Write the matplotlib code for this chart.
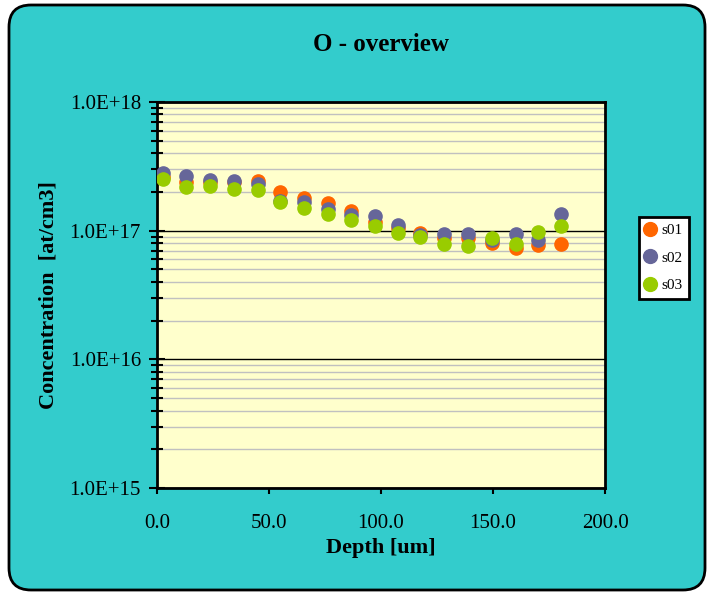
import numpy as np
import matplotlib
matplotlib.use("Agg")
import matplotlib.pyplot as plt
from matplotlib.patches import FancyBboxPatch
from matplotlib.transforms import IdentityTransform
from matplotlib.ticker import FixedLocator, FuncFormatter, LogLocator, NullFormatter

plt.rcParams["font.family"] = ["Liberation Serif", "DejaVu Serif"]

# ----------------------------------------------------
# Data
# ----------------------------------------------------

depth = [2.5, 13.0, 23.7, 34.4, 45.0, 55.0, 65.6, 76.3, 86.6, 97.3,
         107.6, 117.4, 128.0, 138.8, 149.6, 160.3, 170.2, 180.4]

s01 = [2.60e17, 2.40e17, 2.40e17, 2.40e17, 2.43e17, 2.01e17, 1.80e17, 1.63e17, 1.41e17, 1.17e17,
       1.05e17, 9.6e16, 8.7e16, 8.8e16, 8.0e16, 7.3e16, 7.8e16, 7.9e16]
s02 = [2.79e17, 2.66e17, 2.48e17, 2.43e17, 2.29e17, 1.70e17, 1.66e17, 1.48e17, 1.32e17, 1.31e17,
       1.10e17, 9.3e16, 9.4e16, 9.5e16, 8.5e16, 9.5e16, 8.5e16, 1.35e17]
s03 = [2.51e17, 2.17e17, 2.24e17, 2.09e17, 2.08e17, 1.68e17, 1.51e17, 1.35e17, 1.20e17, 1.09e17,
       9.6e16, 8.9e16, 7.9e16, 7.6e16, 8.8e16, 7.9e16, 9.8e16, 1.09e17]

series_names = ["s01", "s02", "s03"]
colors = ["#FF6600", "#666699", "#99CC00"]

x_ticks = [0, 50, 100, 150, 200]
y_ticks = [1e15, 1e16, 1e17, 1e18]

# ----------------------------------------------------
# Figure
# ----------------------------------------------------

fig = plt.figure(figsize=(7.08, 5.93), dpi=100)
fig.patch.set_facecolor("white")

frame = FancyBboxPatch(
    (9, 3), 696, 585,
    boxstyle="round,pad=0,rounding_size=22",
    transform=IdentityTransform(),
    facecolor="#33CCCC",
    edgecolor="black",
    linewidth=2,
    zorder=-10
)
fig.patches.append(frame)

ax = fig.add_axes([157 / 708, 1 - 488 / 593, 448 / 708, 386 / 593])
ax.set_zorder(2)
ax.set_facecolor("#FFFFCC")

for name, vals, c in zip(series_names, [s01, s02, s03], colors):
    ax.plot(depth, vals, linestyle="none", marker="o", markersize=9.5,
            markerfacecolor=c, markeredgecolor=c, label=name, zorder=3)

ax.set_yscale("log")
ax.set_ylim(1e15, 1e18)
ax.set_xlim(0, 200)

ax.yaxis.set_major_locator(FixedLocator(y_ticks))
ax.yaxis.set_major_formatter(FuncFormatter(
    lambda v, p: "1.0E+%d" % int(round(np.log10(v)))))
ax.yaxis.set_minor_locator(LogLocator(base=10, subs=np.arange(2, 10)))
ax.yaxis.set_minor_formatter(NullFormatter())

ax.set_xticks(x_ticks)
ax.set_xticklabels(["%.1f" % t for t in x_ticks])

ax.grid(True, which="major", axis="y", color="black", linewidth=1)
ax.grid(True, which="minor", axis="y", color="#C0C0C0", linewidth=1)
ax.set_axisbelow(True)

ax.tick_params(axis="y", which="major", direction="inout", length=11, width=1.5,
               labelsize=15, pad=6)
ax.tick_params(axis="y", which="minor", direction="inout", length=8, width=1.5)
ax.tick_params(axis="x", which="major", direction="out", length=4.5, width=1.5,
               labelsize=15, pad=14)

for s in ax.spines.values():
    s.set_linewidth(2)

ax.set_title("O - overview", fontsize=18, fontweight="bold", pad=37)
ax.set_xlabel("Depth [um]", fontsize=16, fontweight="bold", labelpad=4)
ax.set_ylabel("Concentration  [at/cm3]", fontsize=16, fontweight="bold", labelpad=8)

leg = fig.legend(
    loc="center left",
    bbox_to_anchor=(639 / 708, 1 - 258 / 593),
    fontsize=11,
    frameon=True,
    fancybox=False,
    framealpha=1,
    markerscale=1.05,
    handletextpad=0.45,
    handlelength=0.55,
    labelspacing=0.9,
    borderpad=0.45,
    borderaxespad=0
)
leg.set_zorder(5)
leg.get_frame().set_edgecolor("black")
leg.get_frame().set_linewidth(2)
leg.get_frame().set_facecolor("white")

fig.savefig("out.png", dpi=100, facecolor=fig.get_facecolor())
